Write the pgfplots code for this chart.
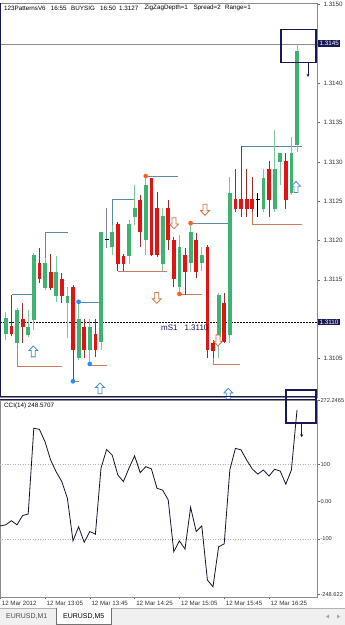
\documentclass[border=0pt]{standalone}
\usepackage{pgfplots}
\pgfplotsset{compat=1.18}
\usepackage{pgfplotstable}
\usepackage{fontspec}
\setmainfont{Liberation Sans}
\usetikzlibrary{arrows.meta}
\definecolor{bullbody}{RGB}{60,179,113}
\definecolor{bullwick}{RGB}{125,198,155}
\definecolor{bearbody}{RGB}{225,20,20}
\definecolor{bearwick}{RGB}{150,45,45}
\definecolor{patblue}{RGB}{90,140,170}
\definecolor{patbrown}{RGB}{200,125,95}
\definecolor{dotblue}{RGB}{30,144,255}
\definecolor{dotorange}{RGB}{255,95,30}
\definecolor{arrblue}{RGB}{70,140,205}
\definecolor{arrorange}{RGB}{215,115,60}
\definecolor{navy}{RGB}{25,25,85}
\definecolor{ccicol}{RGB}{20,20,50}
\definecolor{dojigrey}{RGB}{130,130,165}

\pgfdeclareplotmark{uparr}{%
 \pgfpathmoveto{\pgfqpoint{0bp}{5.5bp}}%
 \pgfpathlineto{\pgfqpoint{4.5bp}{0.8bp}}%
 \pgfpathlineto{\pgfqpoint{2bp}{0.8bp}}%
 \pgfpathlineto{\pgfqpoint{2bp}{-5.5bp}}%
 \pgfpathlineto{\pgfqpoint{-2bp}{-5.5bp}}%
 \pgfpathlineto{\pgfqpoint{-2bp}{0.8bp}}%
 \pgfpathlineto{\pgfqpoint{-4.5bp}{0.8bp}}%
 \pgfpathclose
 \pgfusepathqfillstroke}
\pgfdeclareplotmark{dnarr}{%
 \pgfpathmoveto{\pgfqpoint{0bp}{-5.5bp}}%
 \pgfpathlineto{\pgfqpoint{4.5bp}{-0.8bp}}%
 \pgfpathlineto{\pgfqpoint{2bp}{-0.8bp}}%
 \pgfpathlineto{\pgfqpoint{2bp}{5.5bp}}%
 \pgfpathlineto{\pgfqpoint{-2bp}{5.5bp}}%
 \pgfpathlineto{\pgfqpoint{-2bp}{-0.8bp}}%
 \pgfpathlineto{\pgfqpoint{-4.5bp}{-0.8bp}}%
 \pgfpathclose
 \pgfusepathqfillstroke}

% bar index k: 12:25 + 5 min * k
\pgfplotstableread{
k o h l c
1 1.31081 1.31109 1.31073 1.31101
3 1.31070 1.31114 1.31067 1.31112
5 1.31080 1.31112 1.31077 1.31090
6 1.31099 1.31184 1.31086 1.31182
8 1.31140 1.31178 1.31137 1.31171
10 1.31129 1.31180 1.31122 1.31160
12 1.31120 1.31141 1.31076 1.31129
14 1.31050 1.31122 1.31048 1.31100
16 1.31061 1.31100 1.31043 1.31090
18 1.31071 1.31211 1.31061 1.31211
20 1.31192 1.31220 1.31182 1.31211
23 1.31180 1.31226 1.31170 1.31221
24 1.31230 1.31271 1.31220 1.31241
26 1.31201 1.31282 1.31182 1.31271
29 1.31170 1.31241 1.31161 1.31231
32 1.31141 1.31207 1.31132 1.31192
34 1.31171 1.31222 1.31160 1.31211
36 1.31171 1.31192 1.31161 1.31182
39 1.31077 1.31133 1.31050 1.31131
41 1.31080 1.31281 1.31070 1.31260
47 1.31240 1.31291 1.31236 1.31280
49 1.31240 1.31341 1.31236 1.31291
50 1.31300 1.31311 1.31271 1.31311
52 1.31260 1.31332 1.31258 1.31311
53 1.31322 1.31450 1.31313 1.31441
}\bull
\pgfplotstableread{
k o h l c
2 1.31091 1.31131 1.31078 1.31081
4 1.31100 1.31120 1.31070 1.31090
7 1.31171 1.31190 1.31146 1.31151
9 1.31160 1.31183 1.31137 1.31140
11 1.31151 1.31159 1.31120 1.31129
13 1.31141 1.31143 1.31023 1.31061
15 1.31090 1.31100 1.31050 1.31061
17 1.31081 1.31100 1.31052 1.31061
21 1.31221 1.31224 1.31161 1.31170
22 1.31180 1.31183 1.31161 1.31170
25 1.31252 1.31258 1.31192 1.31211
27 1.31280 1.31280 1.31180 1.31182
28 1.31241 1.31262 1.31179 1.31182
30 1.31241 1.31252 1.31188 1.31201
31 1.31201 1.31205 1.31141 1.31151
33 1.31182 1.31190 1.31131 1.31160
35 1.31201 1.31210 1.31152 1.31160
37 1.31192 1.31194 1.31050 1.31061
38 1.31070 1.31073 1.31050 1.31059
40 1.31120 1.31133 1.31070 1.31071
42 1.31253 1.31291 1.31236 1.31240
43 1.31253 1.31320 1.31230 1.31240
44 1.31253 1.31291 1.31230 1.31240
45 1.31253 1.31281 1.31236 1.31240
48 1.31291 1.31301 1.31230 1.31252
51 1.31301 1.31311 1.31240 1.31252
}\bear
\pgfplotstableread{
k cci
0 -65
1 -62
2 -51
3 -62
4 -37
5 -33
6 197
7 194
8 161
9 112
10 80
11 54
12 9
13 -105
14 -67
15 -109
16 -80
17 -87
18 90
19 140
20 125
21 72
22 54
23 90
24 123
25 78
26 94
27 88
28 36
29 31
30 5
31 -134
32 -105
33 -127
34 -15
35 -80
36 -65
37 -210
38 -228
39 -121
40 -113
41 85
42 143
43 139
44 112
45 88
46 74
47 85
48 69
49 87
50 82
51 47
52 85
53 246
}\cci

\begin{document}
\begin{tikzpicture}[font=\fontsize{6.4}{7.5}\selectfont]
\useasboundingbox (0,0) rectangle (345bp,625bp);
\fill[white] (0,0) rectangle (345bp,625bp);

% ---------------- price panel ----------------
\begin{axis}[
  at={(0bp,228bp)}, anchor=south west,
  width=317bp, height=394bp, scale only axis,
  xmin=-0.036, xmax=56.571,
  ymin=1.31001, ymax=1.31502,
  xtick=\empty,
  ytick={1.3105,1.3115,1.3120,1.3125,1.3130,1.3135,1.3140,1.3150},
  extra y ticks={1.3110,1.3145}, extra y tick labels={},
  ytick pos=right, tick align=outside, major tick length=3bp,
  scaled y ticks=false,
  yticklabel style={/pgf/number format/.cd, fixed, fixed zerofill, precision=4, assume math mode=true},
  every tick label/.append style={font=\fontsize{6.3}{7}\selectfont, text=black!80},
  axis line style={draw=black!45, line width=0.5bp},
  tick style={draw=black!60, line width=0.5bp},
]
\addplot[black!45, line width=0.5bp] coordinates {(-0.036,1.3145) (56.571,1.3145)};
\addplot[black, line width=0.6bp, dash pattern=on 1.5bp off 1.5bp] coordinates {(-0.036,1.31096) (56.571,1.31096)};
% 1-2-3 pattern lines
\addplot[patblue, line width=0.8bp, unbounded coords=jump] coordinates {
 (2.16,1.31131) (5.91,1.31131) (5.95,nan)
 (8,1.31178) (8,1.31210) (12.1,1.31210) (12.2,nan)
 (14,1.31121) (18,1.31121) (18.1,nan)
 (20,1.31220) (20,1.31252) (24,1.31252) (24.1,nan)
 (26,1.31281) (31.8,1.31281) (31.9,nan)
 (34,1.31222) (40.9,1.31222) (41,nan)
 (43,1.31320) (53.85,1.31320)
};
\addplot[patbrown, line width=0.8bp, unbounded coords=jump] coordinates {
 (3,1.31067) (3,1.31040) (11.04,1.31040) (11.1,nan)
 (13,1.31021) (14,1.31021) (14.1,nan)
 (16,1.31041) (19,1.31041) (19.1,nan)
 (21,1.31161) (29.7,1.31161) (29.8,nan)
 (32,1.31132) (35.98,1.31132) (36,nan)
 (38,1.31050) (38,1.31042) (42.82,1.31042) (42.9,nan)
 (45,1.31236) (45,1.31221) (53.85,1.31221)
};
% wicks
\addplot[draw=none, mark=none, error bars/.cd, y dir=plus, y explicit, error mark=none,
  error bar style={line width=0.9bp, draw=bullwick}]
  table[x=k, y=l, y error expr=\thisrow{h}-\thisrow{l}] {\bull};
\addplot[draw=none, mark=none, error bars/.cd, y dir=plus, y explicit, error mark=none,
  error bar style={line width=0.9bp, draw=bearwick}]
  table[x=k, y=l, y error expr=\thisrow{h}-\thisrow{l}] {\bear};
% bodies
\addplot[draw=none, mark=none, error bars/.cd, y dir=plus, y explicit, error mark=none,
  error bar style={line width=3.8bp, draw=bullbody}]
  table[x=k, y=o, y error expr=\thisrow{c}-\thisrow{o}] {\bull};
\addplot[draw=none, mark=none, error bars/.cd, y dir=plus, y explicit, error mark=none,
  error bar style={line width=3.8bp, draw=bearbody}]
  table[x=k, y=c, y error expr=\thisrow{o}-\thisrow{c}] {\bear};
% doji bars
\addplot[dojigrey, line width=0.9bp] coordinates {(19,1.31190) (19,1.31241)};
\addplot[black, line width=0.9bp] coordinates {(46,1.31230) (46,1.31260)};
\addplot[only marks, mark=-, mark size=2bp, mark options={line width=0.9bp, draw=black}] coordinates {(19,1.31201) (46,1.31252)};
% zigzag dots
\addplot[only marks, mark=*, mark size=2.1bp, mark options={fill=dotblue, draw=dotblue}] coordinates {(13,1.31021) (14,1.31122) (16,1.31043)};
\addplot[only marks, mark=*, mark size=2.1bp, mark options={fill=dotorange, draw=dotorange}] coordinates {(26,1.31282) (32,1.31132) (34,1.31222)};
% signal arrows
\addplot[only marks, mark=uparr, mark options={fill=white, draw=arrblue, line width=0.8bp}] coordinates {(5.91,1.31059) (17.82,1.31012) (40.73,1.31005) (52.82,1.31268)};
\addplot[only marks, mark=dnarr, mark options={fill=white, draw=arrorange, line width=0.8bp}] coordinates {(27.95,1.31127) (31.04,1.31222) (36.57,1.31239) (38.89,1.31073)};
% signal box
\addplot[navy, line width=1.3bp, line cap=rect] coordinates {(50.14,1.31468) (56.39,1.31468) (56.39,1.31426) (50.14,1.31426) (50.14,1.31468)};
\addplot[navy, line width=0.8bp, -{Stealth[length=3bp,width=3bp]}] coordinates {(54.96,1.31426) (54.96,1.31408)};
\end{axis}

% ---------------- CCI panel ----------------
\begin{axis}[
  at={(0bp,28bp)}, anchor=south west,
  width=317bp, height=197bp, scale only axis,
  xmin=-0.036, xmax=56.571, ymin=-255.5, ymax=272.7,
  xtick={0,8,16,24,32,40,48},
  xticklabels={12 Mar 2012,12 Mar 13:05,12 Mar 13:45,12 Mar 14:25,12 Mar 15:05,12 Mar 15:45,12 Mar 16:25},
  xtick pos=bottom, ytick pos=right,
  ytick={272.2465,100,0,-100,-248.622},
  yticklabels={272.2465,100,0.00,-100,-248.622},
  tick align=outside, major tick length=2.5bp,
  xticklabel style={anchor=north west, inner sep=1bp, xshift=0.5bp, font=\fontsize{6.2}{7}\selectfont},
  yticklabel style={inner xsep=0.8bp, font=\fontsize{5.7}{7}\selectfont},
  every tick label/.append style={text=black!80},
  axis line style={draw=black!45, line width=0.5bp},
  tick style={draw=black!60, line width=0.5bp},
  clip=false,
]
\addplot[black!30, line width=0.5bp, dash pattern=on 1bp off 1.5bp] coordinates {(-0.036,100) (56.571,100)};
\addplot[black!30, line width=0.5bp, dash pattern=on 1bp off 1.5bp] coordinates {(-0.036,-100) (56.571,-100)};
\addplot[ccicol, line width=0.8bp] table[x=k, y=cci] {\cci};
\addplot[navy, line width=1.3bp, line cap=rect] coordinates {(51.04,299.5) (56.39,299.5) (56.39,211) (51.04,211) (51.04,299.5)};
\addplot[navy, line width=0.8bp, -{Stealth[length=3bp,width=3bp]}] coordinates {(53.84,211) (53.84,173)};
\end{axis}

% panel separators and frame details
\draw[navy, line width=1bp] (0,228bp) -- (317bp,228bp);
\draw[navy, line width=1bp] (0,225bp) -- (317bp,225bp);
\draw[navy, line width=1bp] (0.5bp,228bp) -- (0.5bp,622bp);

% texts
\begin{scope}[every node/.style={anchor=west, inner sep=0pt, font=\fontsize{6.3}{7}\selectfont}]
\node at (4bp,617bp) {123PatternsV6};
\node at (50.7bp,617bp) {16:55};
\node at (71bp,617bp) {BUYSIG};
\node at (100bp,617bp) {16:50};
\node at (119bp,617bp) {1.3127};
\node at (144.3bp,617bp) {ZigZagDepth=1};
\node at (193.3bp,617bp) {Spread=2};
\node at (225bp,617bp) {Range=1};
\node at (4bp,219.3bp) {CCI(14) 248.5707};
\end{scope}
\node[anchor=west, inner sep=0pt, text=navy, font=\fontsize{8}{9}\selectfont] at (161bp,297.5bp) {mS1\hspace{7bp}1.3110};
\node[anchor=west, fill=navy, text=white, inner xsep=1.5bp, inner ysep=1.2bp, font=\fontsize{6.3}{7}\selectfont] at (318bp,581.5bp) {1.3145};
\node[anchor=west, fill=navy, text=white, inner xsep=1.5bp, inner ysep=1.2bp, font=\fontsize{6.3}{7}\selectfont] at (318bp,303bp) {1.3110};

% tab bar
\fill[black!6] (0,0) rectangle (345bp,17bp);
\draw[black!30, line width=0.5bp] (0,17bp) -- (345bp,17bp);
\fill[white] (56.5bp,0) rectangle (111.5bp,17bp);
\draw[black!55, line width=0.6bp] (56.5bp,17bp) -- (56.5bp,1bp) -- (111.5bp,1bp) -- (111.5bp,17bp);
\node[anchor=west, inner sep=0pt, text=black!70, font=\fontsize{7}{8}\selectfont] at (6bp,8.5bp) {EURUSD,M1};
\node[anchor=west, inner sep=0pt, text=black, font=\fontsize{7}{8}\selectfont] at (63bp,8.5bp) {EURUSD,M5};
\fill[black!35] (326bp,8.5bp) -- (329bp,10.5bp) -- (329bp,6.5bp) -- cycle;
\fill[black!35] (340bp,8.5bp) -- (337bp,10.5bp) -- (337bp,6.5bp) -- cycle;
\end{tikzpicture}
\end{document}
